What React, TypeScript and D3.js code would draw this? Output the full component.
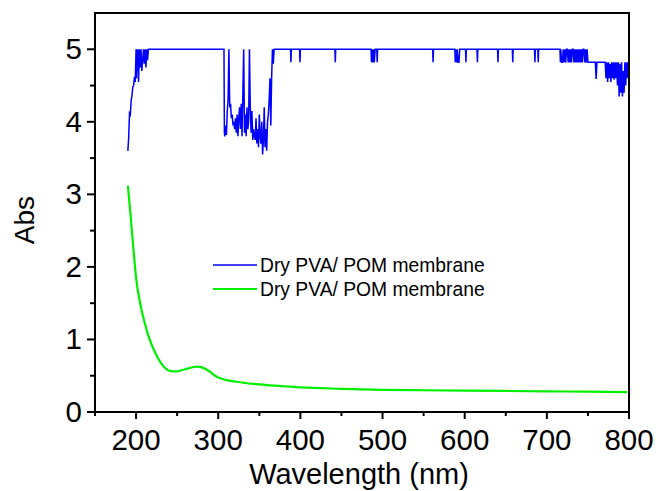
import React from "react";
import * as d3 from "d3";

const xTickValues = [200, 300, 400, 500, 600, 700, 800];
const xMinorTicks = [150, 250, 350, 450, 550, 650, 750];
const yTickValues = [0, 1, 2, 3, 4, 5];
const yMinorTicks = [0.5, 1.5, 2.5, 3.5, 4.5];
const seriesNames = ["Dry PVA/ POM membrane", "Dry PVA/ POM membrane"];

const bluePoints: [number, number][] = [
  [190, 3.6], [191, 3.78], [192, 4.12], [193, 4.1], [194, 4.3], [195, 4.35], [196, 4.48], [197, 4.5],
  [198, 4.62], [199, 4.55], [200, 5], [200.5, 4.6], [201, 5], [201.5, 4.7], [202, 5], [203, 4.55],
  [204, 5], [205, 4.75], [206, 5], [207, 4.7], [208, 4.85], [209, 5], [210, 4.8], [211, 5],
  [212, 4.75], [213, 5], [214, 4.85], [215, 5],
  [307, 5], [307.5, 3.85], [308, 3.8], [309, 3.95], [310, 3.82], [311, 4.15], [312, 4.3], [313, 5],
  [314, 4.2], [315, 4.25], [316, 4.05], [317, 4.1], [318, 3.95], [319, 4.0], [320, 3.9], [321, 4.05],
  [322, 3.85], [323, 4.1], [324, 3.8], [325, 4.05], [326, 4.2], [327, 3.9], [328, 4.25], [329, 3.8],
  [330, 4.4], [331, 5], [332, 3.85], [333, 4.1], [334, 3.8], [335, 4.2], [336, 3.9], [337, 4.0],
  [338, 5], [339, 4.2], [340, 3.85], [341, 4.15], [342, 3.75], [343, 3.9], [344, 3.8], [345, 3.75],
  [346, 4.05], [347, 3.7], [348, 3.9], [349, 3.65], [350, 4.1], [351, 3.8], [352, 3.7], [353, 4.0],
  [354, 3.55], [355, 3.75], [356, 4.2], [357, 3.65], [358, 3.9], [359, 3.6], [360, 4.0], [361, 4.1],
  [362, 4.3], [363, 4.6], [364, 3.95], [365, 4.6], [366, 5], [367, 4.8], [368, 5],
  [388, 5], [388.5, 4.82], [389, 5], [399, 5], [399.5, 4.82], [400, 5], [442, 5], [442.5, 4.82],
  [443, 5], [486, 5], [486.5, 4.82], [487, 5], [488, 4.82], [489, 5], [490, 4.82], [491, 5],
  [493, 5], [493.5, 4.82], [494, 5],
  [561, 5], [561.5, 4.82], [562, 5], [588, 5], [588.5, 4.82], [589, 5], [590, 4.82], [591, 5],
  [592, 4.82], [593, 4.82], [594, 5], [601, 5], [601.5, 4.82], [602, 5], [615, 5], [615.5, 4.82],
  [616, 5], [640, 5], [640.5, 4.82], [641, 5], [658, 5], [658.5, 4.82], [659, 5], [685, 5],
  [685.5, 4.82], [686, 5], [689, 5], [689.5, 4.82], [690, 5],
  [716, 5], [716.5, 4.82], [717, 5], [718, 4.82], [719, 4.82], [720, 5], [721, 4.82], [722, 5],
  [723, 4.82], [724, 5], [725, 5], [726, 4.82], [727, 5], [728, 4.82], [729, 5], [730, 4.82],
  [731, 5], [732, 5], [733, 4.82], [734, 5], [735, 4.82], [736, 5], [737, 4.82], [738, 5],
  [739, 4.82], [740, 5], [741, 4.82], [742, 5], [743, 4.82], [744, 5], [745, 5], [746, 4.82],
  [747, 5], [748, 4.82], [749, 5], [750, 4.82],
  [759, 4.82], [760, 4.59], [761, 4.82], [771, 4.82], [772, 4.6], [773, 4.82], [774, 4.55], [775, 4.82],
  [776, 4.6], [777, 4.8], [778, 4.55], [779, 4.82], [780, 4.6], [781, 4.82], [782, 4.58], [783, 4.82],
  [784, 4.6], [785, 4.82], [786, 4.5], [787, 4.82], [788, 4.35], [789, 4.8], [790, 4.4], [791, 4.82],
  [792, 4.35], [793, 4.7], [794, 4.4], [795, 4.82], [796, 4.5], [797, 4.82], [798, 4.6], [799, 4.82],
];

const greenPoints: [number, number][] = [
  [190, 3.12], [193, 2.75], [196, 2.35], [200, 1.85], [205, 1.5], [210, 1.25], [215, 1.05],
  [220, 0.9], [225, 0.78], [230, 0.68], [235, 0.61], [240, 0.57], [245, 0.56], [250, 0.56],
  [255, 0.575], [260, 0.59], [265, 0.605], [270, 0.62], [275, 0.625], [280, 0.615], [285, 0.59],
  [290, 0.555], [295, 0.51], [300, 0.475], [305, 0.455], [310, 0.44], [320, 0.42], [330, 0.405],
  [340, 0.39], [350, 0.38], [360, 0.37], [380, 0.355], [400, 0.34], [450, 0.32], [500, 0.305],
  [550, 0.3], [600, 0.295], [650, 0.29], [700, 0.285], [750, 0.28], [798, 0.275],
];

const W = 658;
const H = 491;
const M = { left: 95, right: 629, top: 13, bottom: 412 };
const FONT = "'Liberation Sans', Arial, sans-serif";

export default function App() {
  const x = d3.scaleLinear().domain([150, 800]).range([M.left, M.right]);
  const y = d3.scaleLinear().domain([0, 5.5]).range([M.bottom, M.top]);
  const line = d3.line<[number, number]>().x((d) => x(d[0])).y((d) => y(d[1]));
  const smooth = d3
    .line<[number, number]>()
    .x((d) => x(d[0]))
    .y((d) => y(d[1]))
    .curve(d3.curveMonotoneX);

  return (
    <svg
      width={W}
      height={H}
      style={{ position: "absolute", left: 0, top: 0, background: "#fff" }}
      fontFamily={FONT}
    >
      <rect x={0} y={0} width={W} height={H} fill="#fff" />
      <path d={line(bluePoints) || ""} fill="none" stroke="#0000ff" strokeWidth={1.5} />
      <path d={smooth(greenPoints) || ""} fill="none" stroke="#00ee00" strokeWidth={2.2} />

      {/* frame */}
      <rect
        x={M.left}
        y={M.top}
        width={M.right - M.left}
        height={M.bottom - M.top}
        fill="none"
        stroke="#000"
        strokeWidth={2}
      />

      {/* x ticks */}
      {xTickValues.map((t) => (
        <g key={"xt" + t}>
          <line x1={x(t)} x2={x(t)} y1={M.bottom} y2={M.bottom + 7} stroke="#000" strokeWidth={2} />
          <text x={x(t)} y={449.5} fontSize={29.5} textAnchor="middle" fill="#000">
            {t}
          </text>
        </g>
      ))}
      {xMinorTicks.map((t) => (
        <line key={"xm" + t} x1={x(t)} x2={x(t)} y1={M.bottom} y2={M.bottom + 4} stroke="#000" strokeWidth={2} />
      ))}

      {/* y ticks */}
      {yTickValues.map((t) => (
        <g key={"yt" + t}>
          <line x1={M.left - 8} x2={M.left} y1={y(t)} y2={y(t)} stroke="#000" strokeWidth={2} />
          <text x={M.left - 13} y={y(t) + 10} fontSize={29.5} textAnchor="end" fill="#000">
            {t}
          </text>
        </g>
      ))}
      {yMinorTicks.map((t) => (
        <line key={"ym" + t} x1={M.left - 5} x2={M.left} y1={y(t)} y2={y(t)} stroke="#000" strokeWidth={2} />
      ))}

      {/* axis titles */}
      <text x={(M.left + M.right) / 2 - 3} y={484} fontSize={29} textAnchor="middle" fill="#000">
        Wavelength (nm)
      </text>
      <text
        transform={`translate(34, 220) rotate(-90)`}
        fontSize={28}
        textAnchor="middle"
        fill="#000"
      >
        Abs
      </text>

      {/* legend */}
      <line x1={213} x2={257} y1={265} y2={265} stroke="#0000ff" strokeWidth={1.5} />
      <text x={260} y={272} fontSize={19.3} fill="#000">
        {seriesNames[0]}
      </text>
      <line x1={213} x2={257} y1={289} y2={289} stroke="#00ee00" strokeWidth={2.2} />
      <text x={260} y={296} fontSize={19.3} fill="#000">
        {seriesNames[1]}
      </text>
    </svg>
  );
}
